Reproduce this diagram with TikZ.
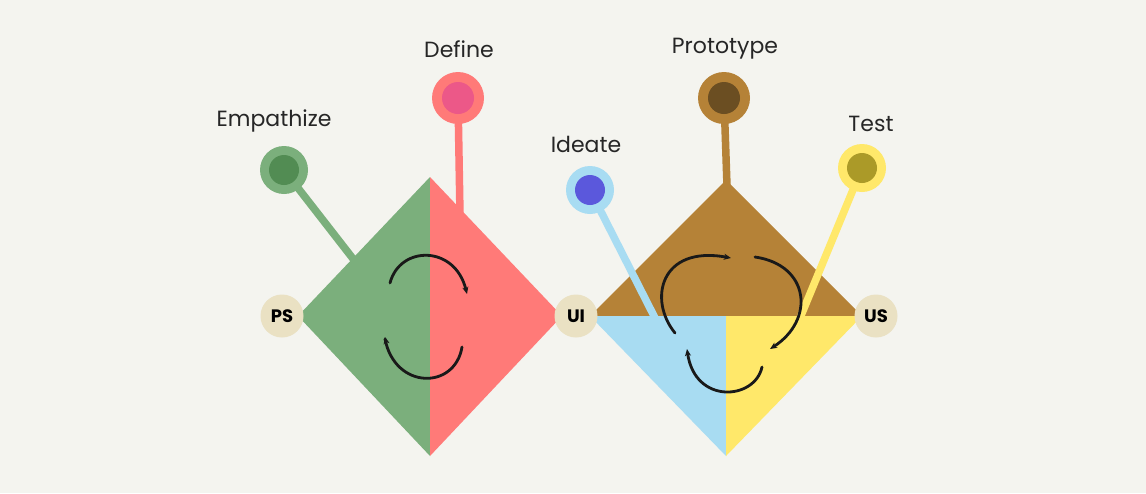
\documentclass[tikz,border=0pt]{standalone}
\usepackage{fontspec}
\setmainfont{Poppins}
\usetikzlibrary{arrows.meta}
\definecolor{bg}{HTML}{F4F4EF}
\definecolor{empO}{HTML}{7BAF7C}
\definecolor{empI}{HTML}{528C53}
\definecolor{defO}{HTML}{FF7A78}
\definecolor{defI}{HTML}{EC5888}
\definecolor{ideO}{HTML}{A8DCF2}
\definecolor{ideI}{HTML}{5B58DC}
\definecolor{proO}{HTML}{B58237}
\definecolor{proI}{HTML}{6B4E22}
\definecolor{tesO}{HTML}{FFE86A}
\definecolor{tesI}{HTML}{AB9A28}
\definecolor{badge}{HTML}{EAE1C3}
\tikzset{
  pinline/.style={line width=7.5pt},
  pinhead/.style={circle, minimum size=#1, inner sep=0pt},
  pinlabel/.style={font=\fontsize{22}{26}\selectfont, text=black!85},
  badgenode/.style={circle, fill=badge, minimum size=43pt, inner sep=0pt,
    font=\fontsize{18}{21}\selectfont\bfseries},
  cyclearrow/.style={line width=2.8pt, line cap=round, black!90,
    -{Stealth[length=7pt,width=6pt,inset=2pt]}},
}
\begin{document}
\begin{tikzpicture}[x=1pt,y=-1pt]
  \fill[bg] (0,0) rectangle (1146,493);
  \useasboundingbox (0,0) rectangle (1146,493);

  % left diamond corners
  \coordinate (LT) at (430,177);
  \coordinate (LL) at (298,316);
  \coordinate (LR) at (562,316);
  \coordinate (LB) at (430,456);
  % right diamond corners
  \coordinate (RT) at (726,180);
  \coordinate (RL) at (590,316);
  \coordinate (RR) at (862,316);
  \coordinate (RB) at (726,456);
  \coordinate (RM) at (726,316);

  % pin heads (outer rings) placed first so lines can attach
  \node[pinhead=50pt] (emp) at (284,170) {};
  \node[pinhead=52pt] (def) at (458,98) {};
  \node[pinhead=50pt] (ide) at (590,190) {};
  \node[pinhead=52pt] (pro) at (724,98) {};
  \node[pinhead=50pt] (tes) at (862,168) {};

  % stems of the left pins (behind the left diamond)
  \coordinate (empEnd) at (354,260);
  \coordinate (defEnd) at (460,215);
  \draw[pinline, empO] (emp.center) -- (empEnd);
  \draw[pinline, defO] (def.center) -- (defEnd);

  % left diamond
  \fill[empO] (LT) -- (LL) -- (LB) -- cycle;
  \fill[defO] (LT) -- (LR) -- (LB) -- cycle;

  % right diamond, upper half
  \fill[proO] (RT) -- (RL) -- (RR) -- cycle;

  % stems of the right pins
  \coordinate (ideEnd) at (655,318);
  \coordinate (tesEnd) at (800,318);
  \coordinate (proEnd) at (727,186);
  \draw[pinline, ideO] (ide.center) -- (ideEnd);
  \draw[pinline, tesO] (tes.center) -- (tesEnd);
  \draw[pinline, proO] (pro.center) -- (proEnd);

  % right diamond, lower half
  \fill[ideO] (RL) -- (RM) -- (RB) -- cycle;
  \fill[tesO] (RM) -- (RR) -- (RB) -- cycle;

  % pin heads
  \foreach \n/\o/\i/\r/\s in {emp/empO/empI/48/30, def/defO/defI/52/32,
      ide/ideO/ideI/48/30, pro/proO/proI/52/32, tes/tesO/tesI/48/30}{
    \fill[\o] (\n.center) circle (\r/2);
    \fill[\i] (\n.center) circle (\s/2);
  }

  % pin labels
  \node[pinlabel] (empL) at (274,121) {Empathize};
  \node[pinlabel] (defL) at (459,49) {Define};
  \node[pinlabel] (ideL) at (586,144) {Ideate};
  \node[pinlabel] (proL) at (725,49) {Prototype};
  \node[pinlabel] (tesL) at (871,124) {Test};

  % corner badges
  \node[badgenode] (ps) at (282,316) {PS};
  \node[badgenode] (ui) at (576,316) {UI};
  \node[badgenode] (us) at (876,316) {US};

  % cycle arrows, left diamond
  \draw[cyclearrow] (390,283) .. controls (400,245) and (455,245) .. (467,294);
  \draw[cyclearrow, -] (462,347) .. controls (455,390) and (395,390) .. (385,339);
  \draw[black!90, line width=1pt, -{Stealth[length=7pt,width=6pt,inset=2pt]}] (388,350) -- (385,337);

  % cycle arrows, right diamond
  \draw[cyclearrow] (675,333) .. controls (648,300) and (660,245) .. (731,258);
  \draw[cyclearrow] (755,257) .. controls (810,265) and (815,320) .. (770,349);
  \draw[cyclearrow] (762,367) .. controls (755,400) and (695,405) .. (687,349);
\end{tikzpicture}
\end{document}
